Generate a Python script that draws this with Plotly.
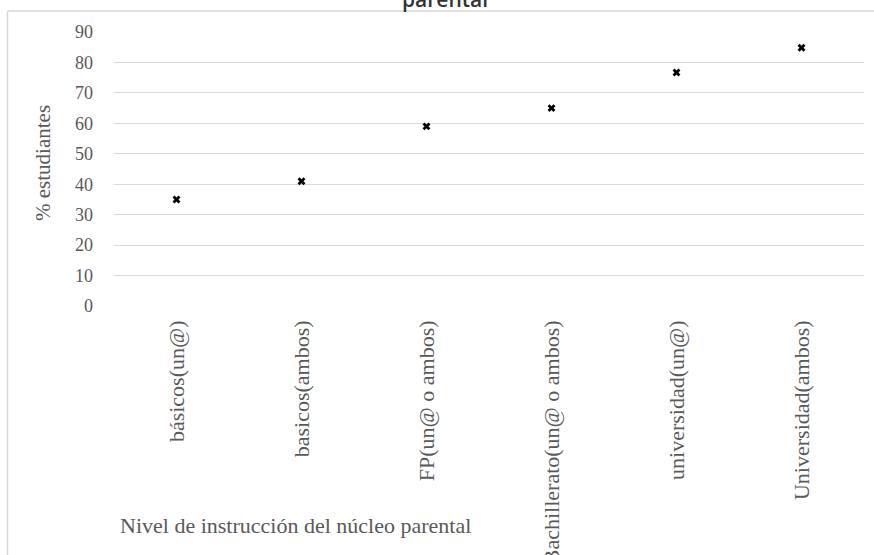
import plotly.graph_objects as go

categories = ["básicos(un@)", "basicos(ambos)", "FP(un@ o ambos)",
              "Bachillerato(un@ o ambos)", "universidad(un@)", "Universidad(ambos)"]
values = [35, 41, 59, 65, 76.7, 84.8]
y_ticks = [0, 10, 20, 30, 40, 50, 60, 70, 80, 90]

W, H = 874, 555
L, R, T, B = 114, 10, 32, 249
pw = W - L - R
ph = H - T - B

def px_x(px):
    return (px - L) / pw

def px_y(py):
    return (H - B - py) / ph

fig = go.Figure()
fig.add_trace(go.Scatter(
    x=categories, y=values, mode="markers",
    marker=dict(symbol="x", size=7, color="black", line=dict(width=0)),
    showlegend=False,
))

serif = "Liberation Serif, Times New Roman, serif"
grey = "#595959"
fig.update_layout(
    width=W, height=H,
    margin=dict(l=L, r=R, t=T, b=B, autoexpand=False),
    paper_bgcolor="white", plot_bgcolor="white",
    xaxis=dict(
        type="category", range=[-0.5, len(categories) - 0.5], tickangle=-90,
        showgrid=False, showline=False, zeroline=False, ticks="",
        ticklabelstandoff=9, automargin=False,
        tickfont=dict(family=serif, size=22, color=grey),
    ),
    yaxis=dict(
        range=[0, 90], tickvals=y_ticks, showgrid=True, gridcolor="#d9d9d9",
        gridwidth=1, zeroline=False, showline=False, ticks="",
        tickfont=dict(family=serif, size=18, color=grey),
        ticklabelstandoff=20, automargin=False,
    ),
    annotations=[
        dict(text="% estudiantes", xref="paper", yref="paper", textangle=-90,
             x=px_x(43), y=px_y(163), xanchor="center", yanchor="middle", showarrow=False,
             font=dict(family=serif, size=21, color=grey)),
        dict(text="Nivel de instrucción del núcleo parental", xref="paper", yref="paper",
             x=px_x(118), y=px_y(525), xanchor="left", yanchor="middle", showarrow=False,
             font=dict(family=serif, size=22, color=grey)),
        dict(text="parental", xref="paper", yref="paper",
             x=px_x(445), y=px_y(-1), xanchor="center", yanchor="middle", showarrow=False,
             font=dict(family="Open Sans, sans-serif", size=21, color="#333333", weight=600)),
    ],
    shapes=[
        dict(type="line", xref="paper", yref="paper", x0=px_x(7.5), x1=px_x(7.5),
             y0=px_y(11), y1=px_y(560), line=dict(color="#d9d9d9", width=1.5)),
        dict(type="line", xref="paper", yref="paper", x0=px_x(7.5), x1=px_x(880),
             y0=px_y(11), y1=px_y(11), line=dict(color="#d9d9d9", width=1.5)),
    ],
)

fig.write_html("out.html", config={"displayModeBar": False},
               post_script="document.body.style.margin='0';")
